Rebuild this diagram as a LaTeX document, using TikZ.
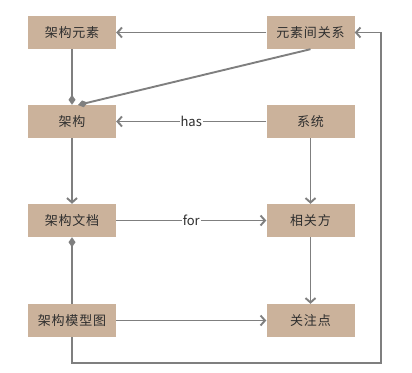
\documentclass[tikz,border=0pt]{standalone}
\usepackage{fontspec}
\setmainfont{Noto Sans CJK SC}[LetterSpace=6]
\newfontfamily\latinf{Noto Sans CJK SC}
\usetikzlibrary{arrows.meta}
\definecolor{boxfill}{HTML}{CBB29B}
\definecolor{linec}{HTML}{7F7F7F}
\definecolor{txt}{HTML}{2E2E2E}
\tikzset{
  box/.style={fill=boxfill, minimum width=88pt, minimum height=33pt, inner sep=0pt, font=\fontsize{13pt}{15pt}\selectfont, text=txt},
  conn/.style={draw=linec, line width=1.9pt},
  arr/.style={conn, -{Straight Barb[length=4.5pt,width=10pt,line width=1.9pt]}},
  dia/.style={conn, -{Diamond[length=10pt,width=7pt]}},
  lbl/.style={fill=white, inner sep=1pt, font=\latinf\fontsize{13pt}{15pt}\selectfont, text=txt}
}
\begin{document}
\begin{tikzpicture}[x=1pt,y=-1pt]
\useasboundingbox (0,0) rectangle (412,372);
\node[box] (ae) at (72,32.5) {架构元素};
\node[box] (rel) at (310.5,32.5) {元素间关系};
\node[box] (arch) at (72,121.5) {架构};
\node[box] (sys) at (310.5,121.5) {系统};
\node[box] (doc) at (72,220.5) {架构文档};
\node[box] (sh) at (310.5,220.5) {相关方};
\node[box] (mv) at (72,320.5) {架构模型图};
\node[box] (con) at (310.5,320.5) {关注点};
\coordinate (c1) at (72,363);
\coordinate (c2) at (381,363);
\coordinate (c3) at (381,32.5);
\coordinate (dt) at (78,105);
\draw[arr] (rel) -- (ae);
\draw[dia] (ae) -- (arch);
\draw[dia] (rel.south) -- (dt);
\draw[arr] (sys) -- node[lbl] {has} (arch);
\draw[arr] (arch) -- (doc);
\draw[arr] (sys) -- (sh);
\draw[arr] (doc) -- node[lbl] {for} (sh);
\draw[arr] (sh) -- (con);
\draw[dia] (mv) -- (doc);
\draw[arr] (mv) -- (con);
\draw[arr] (mv.south) -- (c1) -- (c2) -- (c3) -- (rel.east);
\end{tikzpicture}
\end{document}
